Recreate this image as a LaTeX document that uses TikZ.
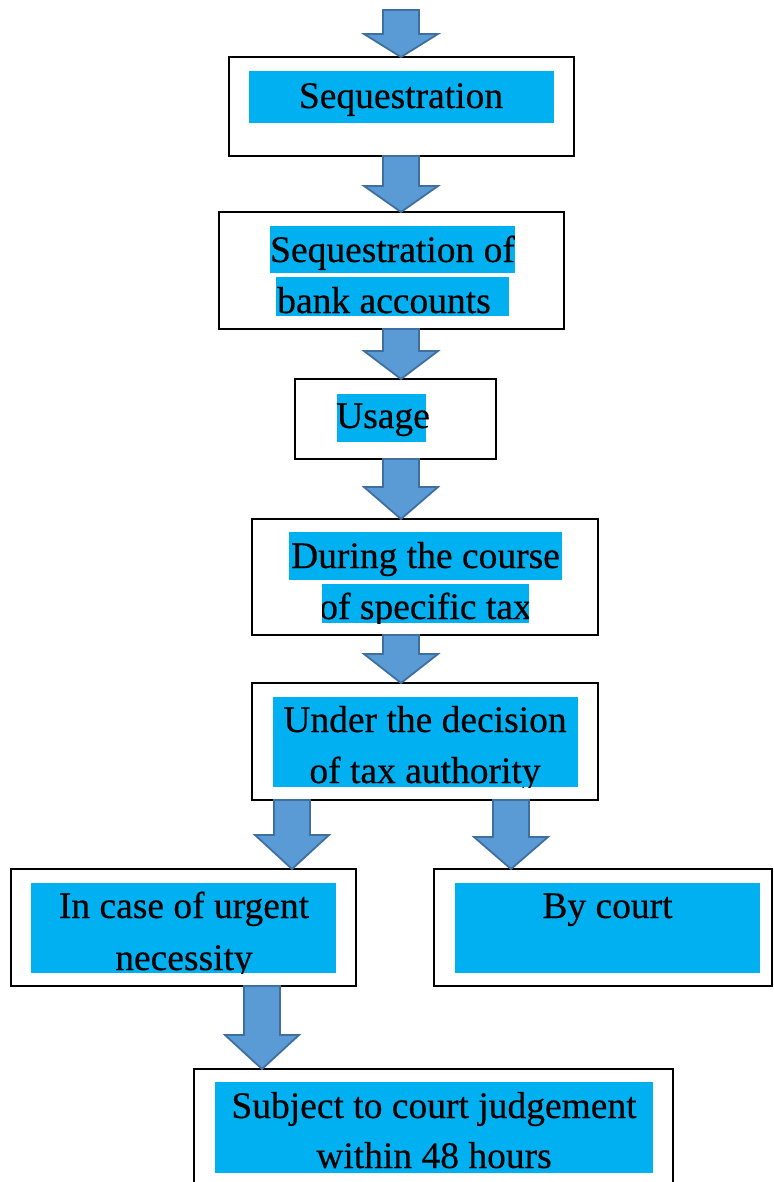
\documentclass[tikz,border=0pt]{standalone}
\usepackage{fontspec}
\setmainfont[FakeBold=0.4]{Liberation Serif}
\usetikzlibrary{calc}
\definecolor{hlcyan}{HTML}{00B0F0}
\definecolor{arrfill}{HTML}{5B9BD5}
\definecolor{arrdraw}{HTML}{3F6F9F}
\tikzset{
  box/.style={draw=black, line width=2pt, fill=white, inner sep=0pt, outer sep=0pt},
  hl/.style={fill=hlcyan},
  txt/.style={anchor=base, inner sep=0pt, font=\fontsize{37.5}{45}\selectfont},
  barrow/.style={fill=arrfill, draw=arrdraw, line width=1.8pt, line join=miter},
}
\newcommand\blockarrow[4]{%
  \path[barrow] let \p1=#2, \p2=#3 in
   (#1pt-18pt,\y1) -- (#1pt+18pt,\y1) -- (#1pt+18pt,\y2+#4pt) -- (#1pt+37pt,\y2+#4pt)
   -- (#1pt,\y2) -- (#1pt-37pt,\y2+#4pt) -- (#1pt-18pt,\y2+#4pt) -- cycle;}
\begin{document}
\begin{tikzpicture}[x=1pt,y=-1pt]
\useasboundingbox (0,0) rectangle (773,1182);
% boxes
\node[box, minimum width=345pt, minimum height=99pt]  (b1) at (401.5,106.5) {};
\node[box, minimum width=345pt, minimum height=117pt] (b2) at (391.5,270.5) {};
\node[box, minimum width=201pt, minimum height=80pt]  (b3) at (395.5,419) {};
\node[box, minimum width=346pt, minimum height=116pt] (b4) at (425,577) {};
\node[box, minimum width=346pt, minimum height=117pt] (b5) at (425,741.5) {};
\node[box, minimum width=345pt, minimum height=117pt] (b6) at (183.5,927.5) {};
\node[box, minimum width=338pt, minimum height=117pt] (b7) at (603,927.5) {};
\node[box, minimum width=479pt, minimum height=131pt] (b8) at (433.5,1134.5) {};
% highlights
\fill[hl] (249,71) rectangle (554,123);
\fill[hl] (270,226) rectangle (515,273);
\fill[hl] (276,277) rectangle (509,316);
\fill[hl] (337,394) rectangle (426,442);
\fill[hl] (289,532) rectangle (562,580);
\fill[hl] (322,584) rectangle (529,623);
\fill[hl] (273,697) rectangle (578,787);
\fill[hl] (31,883) rectangle (336,973);
\fill[hl] (455,883) rectangle (760,973);
\fill[hl] (215,1082) rectangle (653,1173);
% texts
\node[txt] (t1) at (401,108) {Sequestration};
\node[txt] (t2a) at (392.5,262) {Sequestration of};
\node[txt] (t2b) at (384,313) {bank accounts};
\node[txt] (t3) at (383,428) {Usage};
\node[txt] (t4a) at (425.5,568) {During the course};
\begin{scope}
\clip (322,584) rectangle (529,623);
\node[txt] (t4b) at (425.5,619) {of specific tax};
\end{scope}
\begin{scope}
\clip (273,697) rectangle (578,787);
\node[txt] (t5a) at (425,732) {Under the decision};
\node[txt] (t5b) at (425,783) {of tax authority};
\end{scope}
\begin{scope}
\clip (31,883) rectangle (336,973);
\node[txt] (t6a) at (184,918) {In case of urgent};
\node[txt] (t6b) at (184,970) {necessity};
\end{scope}
\node[txt] (t7) at (607.5,918) {By court};
\node[txt] (t8a) at (434,1118) {Subject to court judgement};
\node[txt] (t8b) at (434,1168) {within 48 hours};
% arrows
\coordinate (top) at (401,10);
\blockarrow{401}{(top)}{(b1.north)}{23}
\blockarrow{401}{(b1.south)}{(b2.north)}{26}
\blockarrow{401}{(b2.south)}{(b3.north)}{28}
\blockarrow{401}{(b3.south)}{(b4.north)}{32}
\blockarrow{401}{(b4.south)}{(b5.north)}{29}
\blockarrow{292}{(b5.south)}{(b6.north)}{34}
\blockarrow{511}{(b5.south)}{(b7.north)}{32}
\blockarrow{262}{(b6.south)}{(b8.north)}{34}
\end{tikzpicture}
\end{document}
